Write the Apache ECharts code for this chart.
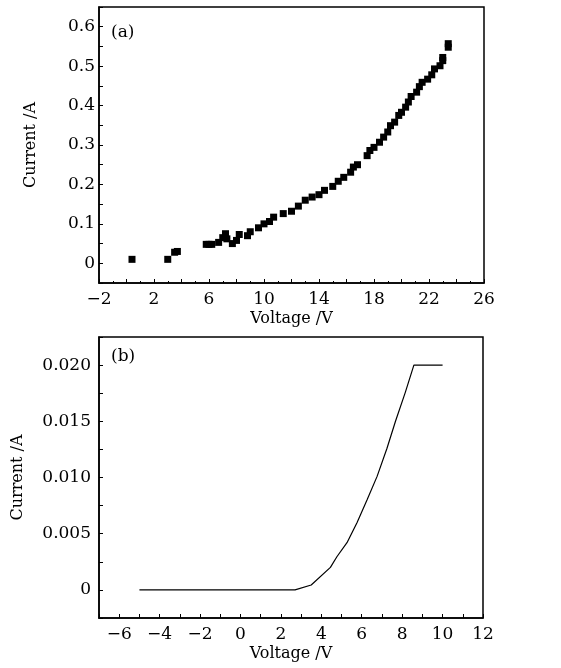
<!DOCTYPE html>
<html>
<head>
<meta charset="utf-8">
<script src="https://cdn.jsdelivr.net/npm/echarts@6/dist/echarts.min.js"></script>
<style>
html, body { margin: 0; padding: 0; background: #fff; }
#chart { width: 561px; height: 668px; }
</style>
</head>
<body>
<div id="chart"></div>
<script>
// (a) measured points: voltage / current
var voltsA = [0.4, 3.0, 3.5, 3.7, 5.8, 6.0, 6.2, 6.7, 7.0, 7.2, 7.3, 7.7, 8.0, 8.2, 8.8, 9.0,
  9.6, 10.0, 10.4, 10.7, 11.4, 12.0, 12.5, 13.0, 13.5, 14.0, 14.4, 15.0, 15.4, 15.8, 16.3,
  16.5, 16.8, 17.5, 17.7, 18.0, 18.4, 18.7, 19.0, 19.2, 19.5, 19.8, 20.0, 20.3, 20.5, 20.7,
  21.1, 21.3, 21.5, 21.9, 22.2, 22.4, 22.8, 23.0, 23.0, 23.4, 23.4];
var ampsA = [0.010, 0.010, 0.028, 0.030, 0.048, 0.048, 0.048, 0.053, 0.065, 0.075, 0.062, 0.050,
  0.058, 0.073, 0.070, 0.080, 0.090, 0.100, 0.106, 0.117, 0.126, 0.132, 0.145, 0.160, 0.168,
  0.174, 0.185, 0.195, 0.208, 0.218, 0.231, 0.244, 0.250, 0.273, 0.286, 0.294, 0.307, 0.320,
  0.333, 0.349, 0.358, 0.375, 0.383, 0.396, 0.409, 0.423, 0.434, 0.448, 0.459, 0.467, 0.478,
  0.493, 0.501, 0.514, 0.522, 0.548, 0.557];

// (b) simulated curve
var voltsB = [-5, 2.7, 3.5, 4.45, 4.77, 5.27, 5.77, 6.26, 6.76, 7.25, 7.67, 8.16, 8.58, 10];
var ampsB = [0, 0, 0.00044, 0.0020, 0.00295, 0.0042, 0.0060, 0.0080, 0.0101, 0.0126, 0.0150,
  0.0176, 0.0200, 0.0200];

var font = 'DejaVu Serif';

function pairs(xs, ys) {
  var out = [];
  for (var i = 0; i < xs.length; i++) out.push([xs[i], ys[i]]);
  return out;
}
function minus(s) { return String(s).replace('-', '\u2212'); }

var chart = echarts.init(document.getElementById('chart'), null, {renderer: 'canvas'});

var axisCommon = {
  axisLine: {onZero: false, lineStyle: {color: '#000', width: 1.5}},
  axisTick: {inside: true, length: 4, lineStyle: {color: '#000'}},
  splitLine: {show: false},
  nameTextStyle: {color: '#000', fontFamily: font, fontSize: 16},
  axisLabel: {color: '#000', fontFamily: font, fontSize: 17}
};

function axis(extra) {
  return echarts.util.merge(echarts.util.clone(axisCommon), extra, true);
}

var option = {
  backgroundColor: '#fff',
  animation: false,
  grid: [
    {left: 99, top: 7, right: 77, height: 276, show: true, borderColor: '#000', borderWidth: 1.5},
    {left: 99, top: 337, right: 78, height: 281, show: true, borderColor: '#000', borderWidth: 1.5}
  ],
  xAxis: [
    axis({
      type: 'value', gridIndex: 0, min: -2, max: 26, interval: 2,
      name: 'Voltage /V', nameLocation: 'middle', nameGap: 28,
      minorTick: {show: true, splitNumber: 2, length: 2, lineStyle: {color: '#000'}},
      axisLabel: {margin: 8,
        formatter: function (v) { return (Math.round(v) + 2) % 4 === 0 ? minus(Math.round(v)) : ''; }}
    }),
    axis({
      type: 'value', gridIndex: 1, min: -7, max: 12, interval: 1,
      name: 'Voltage /V', nameLocation: 'middle', nameGap: 28,
      axisLabel: {margin: 8,
        formatter: function (v) { var r = Math.round(v); return r % 2 === 0 ? minus(r) : ''; }}
    })
  ],
  yAxis: [
    axis({
      type: 'value', gridIndex: 0, min: -0.05, max: 0.65, interval: 0.05,
      name: 'Current /A', nameLocation: 'middle', nameGap: 60,
      axisLabel: {margin: 4,
        formatter: function (v) {
          var k = Math.round(v * 100);
          if (k % 10 !== 0 || k < 0 || k > 60) return '';
          return k === 0 ? '0' : (k / 100).toFixed(1);
        }}
    }),
    axis({
      type: 'value', gridIndex: 1, min: -0.0025, max: 0.0225, interval: 0.0025,
      name: 'Current /A', nameLocation: 'middle', nameGap: 73,
      axisLabel: {margin: 8,
        formatter: function (v) {
          var k = Math.round(v * 10000);
          if (k % 50 !== 0 || k < 0 || k > 200) return '';
          return k === 0 ? '0' : (k / 10000).toFixed(3);
        }}
    })
  ],
  graphic: [
    {type: 'text', left: 111, top: 24, style: {text: '(a)', font: '17px "DejaVu Serif"', fill: '#000'}},
    {type: 'text', left: 111, top: 348, style: {text: '(b)', font: '17px "DejaVu Serif"', fill: '#000'}}
  ],
  series: [
    {
      type: 'scatter', xAxisIndex: 0, yAxisIndex: 0,
      symbol: 'rect', symbolSize: 7,
      itemStyle: {color: '#000', opacity: 1},
      data: pairs(voltsA, ampsA)
    },
    {
      type: 'line', xAxisIndex: 1, yAxisIndex: 1,
      showSymbol: false, symbol: 'none',
      lineStyle: {color: '#000', width: 1.2},
      data: pairs(voltsB, ampsB)
    }
  ]
};

chart.setOption(option);
</script>
</body>
</html>
